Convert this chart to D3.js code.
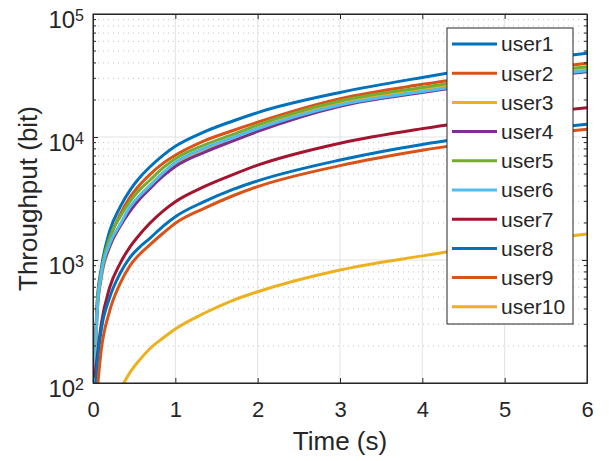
<!DOCTYPE html>
<html>
<head>
<meta charset="utf-8">
<script src="https://cdn.jsdelivr.net/npm/d3@7"></script>
<style>
  body { margin: 0; background: #fff; }
  text { font-family: Arial, "Liberation Sans", sans-serif; fill: #262626; }
</style>
</head>
<body>
<div class="canvas"></div>
<script>

// data (time in s, throughput in bit)
const times = [0.02, 0.05, 0.1, 0.2, 0.33, 0.45, 0.57, 0.69, 0.85, 1, 1.35, 1.7, 2, 3, 4, 5, 6];
const user1 = [120, 450, 850, 1700, 2700, 3700, 4700, 5700, 7100, 8400, 11000, 13500, 15800, 23000, 30500, 39000, 47900];
const user2 = [110, 420, 760, 1450, 2350, 3250, 4100, 4950, 6100, 7100, 9300, 11300, 13200, 20500, 26800, 33200, 39700];
const user3 = [90, 360, 700, 1250, 1900, 2650, 3350, 4050, 5100, 6100, 7950, 9900, 11800, 18700, 24200, 29900, 35500];
const user4 = [90, 380, 740, 1280, 1880, 2500, 3150, 3800, 4800, 5750, 7500, 9300, 11100, 17800, 23000, 28500, 34000];
const user5 = [100, 420, 800, 1500, 2250, 3000, 3750, 4450, 5600, 6650, 8600, 10500, 12500, 19600, 25300, 31300, 37300];
const user6 = [90, 380, 760, 1340, 1950, 2700, 3350, 4000, 5100, 6200, 8100, 9900, 11700, 18200, 23400, 29000, 34600];
const user7 = [110, 160, 300, 590, 940, 1280, 1620, 1990, 2500, 2980, 3950, 4950, 5900, 8900, 11700, 14500, 17300];
const user8 = [70, 140, 270, 490, 780, 1050, 1280, 1500, 1880, 2250, 2980, 3750, 4400, 6500, 8700, 10700, 12700];
const user9 = [null, 85, 185, 380, 645, 900, 1120, 1330, 1650, 1990, 2630, 3330, 3950, 5850, 7800, 9700, 11550];
const user10 = [null, null, null, null, 88, 122, 155, 190, 232, 275, 369, 470, 552, 830, 1080, 1360, 1630];

const userNames = ['user1', 'user2', 'user3', 'user4', 'user5', 'user6', 'user7', 'user8', 'user9', 'user10'];
const userValues = [user1, user2, user3, user4, user5, user6, user7, user8, user9, user10];
const userColors = ['#0072BD', '#D95319', '#EDB120', '#7E2F8E', '#77AC30', '#4DBEEE', '#A2142F', '#0072BD', '#D95319', '#EDB120'];

const xTicks = [0, 1, 2, 3, 4, 5, 6];
const yTicks = [1e2, 1e3, 1e4, 1e5];

const margin = { top: 14, right: 22, bottom: 78, left: 93 };
const width = 609, height = 461;
const graphWidth = width - margin.left - margin.right;
const graphHeight = height - margin.top - margin.bottom;

const svg = d3.select('.canvas')
    .append('svg')
        .attr('width', width)
        .attr('height', height);

const graph = svg.append('g')
    .attr('transform', `translate(${margin.left}, ${margin.top})`);

// scales
const x = d3.scaleLinear().domain([0, 6]).range([0, graphWidth]);
const y = d3.scaleLog().domain([1e2, 1e5]).range([graphHeight, 0]);

// minor y values 2..9 x decade
const minorY = [];
[1e2, 1e3, 1e4].forEach(d => { for (let k = 2; k <= 9; k++) minorY.push(k * d); });

// grid
graph.append('g').selectAll('line')
    .data(minorY).enter().append('line')
        .attr('x1', 0).attr('x2', graphWidth)
        .attr('y1', d => y(d)).attr('y2', d => y(d))
        .attr('stroke', '#c4c4c4')
        .attr('stroke-width', 1)
        .attr('stroke-dasharray', '1,4');

graph.append('g').selectAll('line')
    .data(yTicks).enter().append('line')
        .attr('x1', 0).attr('x2', graphWidth)
        .attr('y1', d => y(d)).attr('y2', d => y(d))
        .attr('stroke', '#e2e2e2');

graph.append('g').selectAll('line')
    .data(xTicks).enter().append('line')
        .attr('x1', d => x(d)).attr('x2', d => x(d))
        .attr('y1', 0).attr('y2', graphHeight)
        .attr('stroke', '#e2e2e2');

// lines
svg.append('clipPath').attr('id', 'plot-clip')
    .append('rect')
        .attr('width', graphWidth)
        .attr('height', graphHeight);

const line = d3.line()
    .defined(d => d.v != null)
    .x(d => x(d.t))
    .y(d => y(d.v))
    .curve(d3.curveMonotoneX);

graph.append('g')
    .attr('clip-path', 'url(#plot-clip)')
    .selectAll('path')
    .data(userValues).enter().append('path')
        .attr('fill', 'none')
        .attr('stroke', (d, i) => userColors[i])
        .attr('stroke-width', 3)
        .attr('d', vals => line(vals.map((v, i) => ({ t: times[i], v: v }))));

// axes
const axisColor = '#262626';

const xAxisGroup = graph.append('g')
    .attr('transform', `translate(0, ${graphHeight})`)
    .call(d3.axisBottom(x).tickValues(xTicks).tickSize(-5).tickSizeOuter(0).tickPadding(18).tickFormat(d => d));

graph.append('g')
    .call(d3.axisTop(x).tickValues(xTicks).tickSize(-5).tickSizeOuter(0).tickFormat(''));

const yAxisGroup = graph.append('g')
    .call(d3.axisLeft(y).tickValues(yTicks).tickSize(-5).tickSizeOuter(0).tickPadding(9).tickFormat(''));

graph.append('g')
    .attr('transform', `translate(${graphWidth}, 0)`)
    .call(d3.axisRight(y).tickValues(yTicks).tickSize(-5).tickSizeOuter(0).tickFormat(''));

// minor y ticks on both sides
graph.append('g').selectAll('line')
    .data(minorY).enter().append('line')
        .attr('x1', 0).attr('x2', 3)
        .attr('y1', d => y(d)).attr('y2', d => y(d))
        .attr('stroke', axisColor);
graph.append('g').selectAll('line')
    .data(minorY).enter().append('line')
        .attr('x1', graphWidth - 3).attr('x2', graphWidth)
        .attr('y1', d => y(d)).attr('y2', d => y(d))
        .attr('stroke', axisColor);

graph.selectAll('.domain, .tick line').attr('stroke', axisColor);

graph.append('rect')
    .attr('width', graphWidth)
    .attr('height', graphHeight)
    .attr('fill', 'none')
    .attr('stroke', axisColor);

xAxisGroup.selectAll('text')
    .attr('font-size', 22)
    .attr('fill', axisColor);

// 10^n tick labels
yAxisGroup.selectAll('.tick text')
    .attr('font-size', 24)
    .attr('fill', axisColor)
    .attr('dy', '0.58em')
    .each(function(d) {
        const t = d3.select(this);
        t.append('tspan').text('10');
        t.append('tspan')
            .attr('dy', -7)
            .attr('font-size', 16)
            .text(Math.round(Math.log10(d)));
    });

// axis labels
graph.append('text')
    .attr('x', graphWidth / 2)
    .attr('y', graphHeight + 67)
    .attr('text-anchor', 'middle')
    .attr('font-size', 26)
    .text('Time (s)');

graph.append('text')
    .attr('transform', `translate(-56, ${graphHeight / 2}) rotate(-90)`)
    .attr('text-anchor', 'middle')
    .attr('font-size', 26)
    .text('Throughput (bit)');

// legend
const legend = svg.append('g')
    .attr('transform', 'translate(447, 28)');

legend.append('rect')
    .attr('width', 126)
    .attr('height', 296)
    .attr('fill', '#fff')
    .attr('stroke', axisColor);

const items = legend.selectAll('g.item')
    .data(userNames).enter().append('g')
        .attr('class', 'item')
        .attr('transform', (d, i) => `translate(0, ${16 + i * 29.2})`);

items.append('line')
    .attr('x1', 5).attr('x2', 50)
    .attr('stroke', (d, i) => userColors[i])
    .attr('stroke-width', 3);

items.append('text')
    .attr('x', 54)
    .attr('dy', '0.35em')
    .attr('font-size', 21)
    .text(d => d);

</script>
</body>
</html>
